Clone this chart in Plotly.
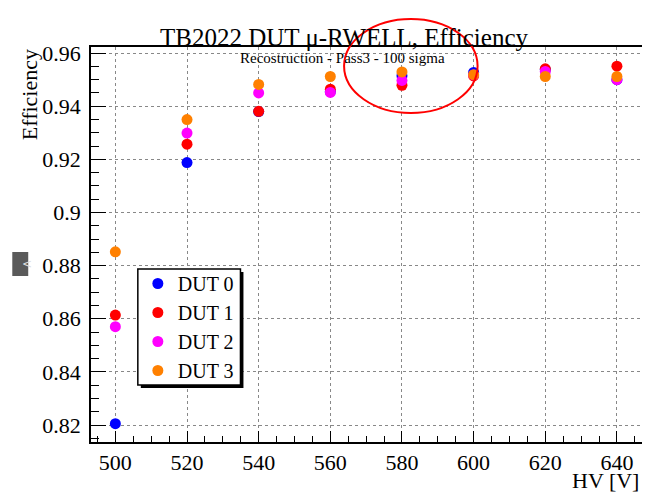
import plotly.graph_objects as go

hv = [500, 520, 540, 560, 580, 600, 620, 640]
dut0 = [0.8205, 0.9188, 0.9380, 0.9455, 0.9515, 0.9527, 0.9538, 0.9500]
dut1 = [0.8614, 0.9257, 0.9381, 0.9464, 0.9479, 0.9514, 0.9541, 0.9551]
dut2 = [0.8570, 0.9299, 0.9450, 0.9452, 0.9497, 0.9518, 0.9531, 0.9500]
dut3 = [0.8852, 0.9350, 0.9482, 0.9512, 0.9529, 0.9519, 0.9512, 0.9512]
names = ["DUT 0", "DUT 1", "DUT 2", "DUT 3"]
colors = ["#0000ff", "#ff0000", "#ff00ff", "#ff8000"]

FONT = "Liberation Serif, Times New Roman, serif"

fig = go.Figure()
for name, ys, c in zip(names, [dut0, dut1, dut2, dut3], colors):
    fig.add_trace(go.Scatter(x=hv, y=ys, mode="markers", name=name,
                             marker=dict(color=c, size=11, line=dict(width=0))))

OFF = 8  # page body margin
L, R, T, B = 83, 6, 39, 50
W, H = 642, 484
pw = W - L - R
ph = H - T - B

def px(x):  # page pixel -> paper
    return (x - OFF - L) / pw

def py(y):
    return (H - B - (y - OFF)) / ph

fig.update_layout(
    width=W, height=H,
    margin=dict(l=L, r=R, t=T, b=B),
    paper_bgcolor="white", plot_bgcolor="white",
    font=dict(family=FONT, color="black"),
    title=dict(text="TB2022 DUT \u03bc-RWELL, Efficiency", x=(344 - OFF) / W, xanchor="center",
               y=1 - (37 - OFF) / H, yanchor="middle", font=dict(size=25, family=FONT)),
    showlegend=True,
    legend=dict(x=px(138), y=py(264), xanchor="left", yanchor="top",
                bgcolor="rgba(0,0,0,0)", borderwidth=0,
                font=dict(size=20, family=FONT), itemwidth=30),
    xaxis=dict(range=[493.2, 647], showline=True, mirror=True, linecolor="black", linewidth=1.5,
               ticks="inside", ticklen=11, tickcolor="black", dtick=20, tick0=500,
               tickfont=dict(size=22, family=FONT), showgrid=True, gridcolor="#888888",
               griddash="dot", gridwidth=1, zeroline=False,
               minor=dict(dtick=5, ticks="inside", ticklen=6, tickcolor="black", showgrid=False)),
    yaxis=dict(range=[0.8136, 0.9623], showline=True, mirror=True, linecolor="black", linewidth=1.5,
               ticks="inside", ticklen=15, tickcolor="black", dtick=0.02, tick0=0.82,
               tickfont=dict(size=22, family=FONT), showgrid=True, gridcolor="#888888",
               griddash="dot", gridwidth=1, zeroline=False, ticklabelstandoff=4,
               minor=dict(dtick=0.005, ticks="inside", ticklen=8, tickcolor="black", showgrid=False)),
)

fig.add_annotation(text="Recostruction - Pass3 - 100 sigma", xref="paper", yref="paper",
                   x=px(343), y=py(58), xanchor="center", yanchor="middle", showarrow=False,
                   font=dict(size=15, family=FONT))
fig.add_annotation(text="Efficiency", xref="paper", yref="paper", textangle=-90,
                   x=px(29), y=py(95), xanchor="center", yanchor="middle", showarrow=False,
                   font=dict(size=22, family=FONT))
fig.add_annotation(text="HV [V]", xref="paper", yref="paper",
                   x=px(643), y=py(480), xanchor="right", yanchor="middle", showarrow=False,
                   font=dict(size=22, family=FONT))

# legend box with shadow (drawn as shapes; legend entries drawn by plotly on top)
fig.add_shape(type="rect", xref="paper", yref="paper", x0=px(141), x1=px(244), y0=py(388), y1=py(272),
              fillcolor="black", line=dict(width=0), layer="above")
fig.add_shape(type="rect", xref="paper", yref="paper", x0=px(138), x1=px(241), y0=py(385), y1=py(269),
              fillcolor="white", line=dict(color="black", width=1.5), layer="above")
# hand-drawn red ellipse annotation
fig.add_shape(type="circle", xref="paper", yref="paper", x0=px(345), x1=px(479), y0=py(113), y1=py(19),
              line=dict(color="#ff0000", width=2), layer="above")
# side UI button
fig.add_shape(type="rect", xref="paper", yref="paper", x0=px(12), x1=px(28), y0=py(276), y1=py(252),
              fillcolor="#5a5a5a", line=dict(width=0), layer="above")
fig.add_annotation(text="<", xref="paper", yref="paper", x=px(20), y=py(264), showarrow=False,
                   font=dict(size=12, color="#dddddd", family="DejaVu Sans"))

fig.write_html("out.html")
